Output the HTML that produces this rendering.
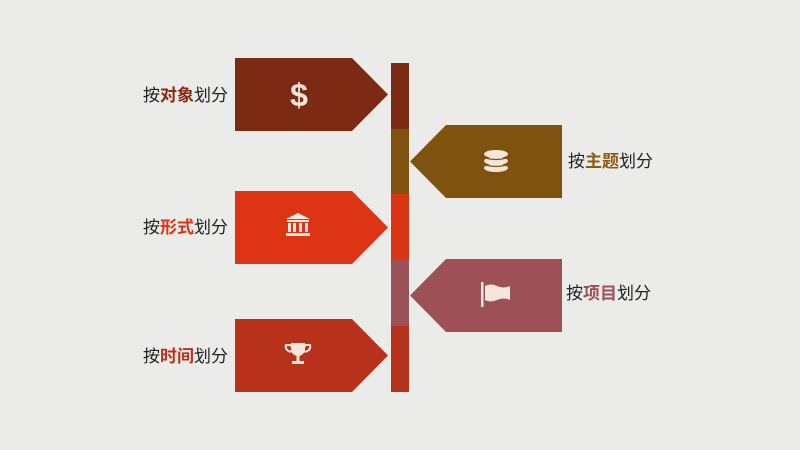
<!DOCTYPE html><html><head><meta charset="utf-8"><style>
body{margin:0;width:800px;height:450px;background:#ebebea;overflow:hidden;font-family:"Liberation Sans","Noto Sans CJK SC",sans-serif}
.t{position:absolute;font-size:17px;color:#222;line-height:20px;white-space:nowrap}
</style></head><body>
<svg width="800" height="450" style="position:absolute;left:0;top:0">
<polygon points="235,58 352,58 388,94.5 352,131 235,131" fill="#7d2a14"/>
<polygon points="235,191 352,191 388,227.5 352,264 235,264" fill="#dc3415"/>
<polygon points="235,319 352,319 388,355.5 352,392 235,392" fill="#b8311b"/>
<polygon points="562,125 446,125 410,161.5 446,198 562,198" fill="#80520f"/>
<polygon points="562,259 446,259 410,295.5 446,332 562,332" fill="#9e5057"/>
<rect x="391" y="63" width="18" height="66" fill="#7b2a14"/>
<rect x="391" y="129" width="18" height="65" fill="#80520f"/>
<rect x="391" y="194" width="18" height="66" fill="#d93513"/>
<rect x="391" y="260" width="18" height="66" fill="#9c5058"/>
<rect x="391" y="326" width="18" height="66" fill="#b7321a"/>
<text x="299" y="106" font-size="32" font-weight="bold" fill="#f5e6dc" text-anchor="middle" font-family="Liberation Sans">$</text>
<g fill="#f5e6dc">
<polygon points="298,213 286,219 310,219"/><rect x="287" y="220" width="22" height="2"/>
<rect x="288" y="223" width="3" height="9"/><rect x="293" y="223" width="3" height="9"/><rect x="299" y="223" width="3" height="9"/><rect x="305" y="223" width="3" height="9"/>
<rect x="286" y="233" width="24" height="3"/>
<path d="M291,343 h14 v6 a7,7 0 0 1 -14,0z"/>
<path d="M291,345 h-5 a5,5 0 0 0 7,6z M305,345 h5 a5,5 0 0 1 -7,6z" fill="none" stroke="#f5e6dc" stroke-width="2"/>
<rect x="296.5" y="355" width="3" height="6"/><rect x="292" y="361" width="12" height="3"/>
<ellipse cx="496" cy="154" rx="12" ry="4"/><ellipse cx="496" cy="161" rx="12" ry="4"/><ellipse cx="496" cy="168" rx="12" ry="4"/>
<rect x="481" y="282" width="2.5" height="25"/><path d="M485,286 q6,-3 12,0 t13,0 v14 q-6,-3 -13,0 t-12,0z"/>
</g>
<g stroke="#80520f" stroke-width="1.2" fill="none"><path d="M484,157.5 q12,4 24,0"/><path d="M484,164.5 q12,4 24,0"/></g>
</svg>
<div class="t" style="right:572px;top:86px">按<b style="color:#8a2a14">对象</b>划分</div>
<div class="t" style="right:572px;top:218px">按<b style="color:#dc3415">形式</b>划分</div>
<div class="t" style="right:572px;top:347px">按<b style="color:#b8311b">时间</b>划分</div>
<div class="t" style="left:568px;top:152px">按<b style="color:#8a5a10">主题</b>划分</div>
<div class="t" style="left:566px;top:284px">按<b style="color:#9e5057">项目</b>划分</div>
</body></html>
